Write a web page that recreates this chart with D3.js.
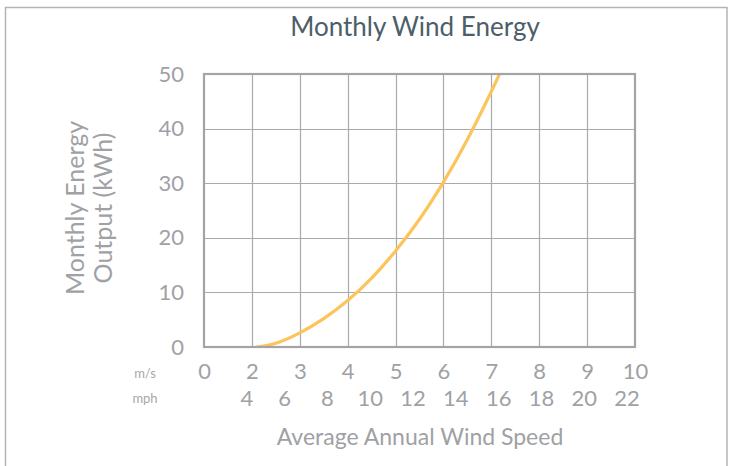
<!DOCTYPE html>
<html><head><meta charset="utf-8">
<script src="https://cdn.jsdelivr.net/npm/d3@7"></script>
<style>body{margin:0;background:#fff;overflow:hidden} text{font-family:Lato, "Open Sans", sans-serif;}</style>
</head><body><svg id="c" width="729" height="466"></svg>
<script>
// ---- data ----
const msTicks = [0, 2, 3, 4, 5, 6, 7, 8, 9, 10];
const mphTicks = [4, 6, 8, 10, 12, 14, 16, 18, 20, 22];
const energyTicks = [0, 10, 20, 30, 40, 50];
const windSpeed = [2.1, 2.5, 3, 3.5, 4, 4.5, 5, 5.5, 6, 6.5, 7, 7.25];
const energy = [0, 0.7, 2.6, 5.2, 8.5, 12.6, 17.6, 23.4, 30.2, 38, 46.8, 51.5];
const MPH_TO_MS = 0.44704;

// ---- layout ----
const svg = d3.select("#c");
const L = 204, R = 635, T = 74, B = 347;
const step = (R - L) / 9;
const x = d3.scaleLinear().domain([0, 2, 10]).range([L, L + step, R]);
const y = d3.scaleLinear().domain([0, 50]).range([B, T]);
const grey = "#a0a1a5";

// outer frame
svg.append("rect").attr("x", 5.5).attr("y", 7.5).attr("width", 721.5).attr("height", 470)
  .attr("fill", "none").attr("stroke", "#b4b4b6").attr("stroke-width", 1.5);

// title
svg.append("text").attr("x", 415).attr("y", 36).attr("text-anchor", "middle")
  .attr("font-size", 26).attr("fill", "#4d5e69").text("Monthly Wind Energy");

// grid
const g = svg.append("g");
g.selectAll("line.v").data(msTicks.slice(1, -1)).join("line").attr("class", "v")
  .attr("x1", d => Math.round(x(d)) + 0.5).attr("x2", d => Math.round(x(d)) + 0.5)
  .attr("y1", T).attr("y2", B).attr("stroke", "#a9aaad").attr("stroke-width", 1.2);
g.selectAll("line.h").data(energyTicks.slice(1, -1)).join("line").attr("class", "h")
  .attr("y1", d => Math.round(y(d)) + 0.5).attr("y2", d => Math.round(y(d)) + 0.5)
  .attr("x1", L).attr("x2", R).attr("stroke", "#a9aaad").attr("stroke-width", 1.2);

// curve
svg.append("clipPath").attr("id", "clip").append("rect")
  .attr("x", L).attr("y", T).attr("width", R - L).attr("height", B - T);
const pts = windSpeed.map((v, i) => [v, energy[i]]);
svg.append("path").datum(pts).attr("clip-path", "url(#clip)")
  .attr("d", d3.line().x(d => x(d[0])).y(d => y(d[1])).curve(d3.curveNatural))
  .attr("fill", "none").attr("stroke", "#fdc45c").attr("stroke-width", 3.2)
  .attr("stroke-linecap", "round");

// plot frame
svg.append("rect").attr("x", L).attr("y", T).attr("width", R - L).attr("height", B - T)
  .attr("fill", "none").attr("stroke", "#a3a4a8").attr("stroke-width", 2.2);

// y axis ticks
const yAxis = d3.axisLeft(y).tickValues(energyTicks).tickSize(0).tickPadding(20);
const ya = svg.append("g").attr("transform", `translate(${L},0)`).call(yAxis);
ya.select(".domain").remove();
ya.selectAll("text").attr("font-size", 22).attr("fill", grey).attr("font-family", "Lato, sans-serif");

// x axis m/s
const xAxis = d3.axisBottom(x).tickValues(msTicks).tickSize(0).tickPadding(16).tickFormat(d3.format("d"));
const xa = svg.append("g").attr("transform", `translate(0,${B})`).call(xAxis);
xa.select(".domain").remove();
xa.selectAll("text").attr("font-size", 22).attr("fill", grey).attr("font-family", "Lato, sans-serif");

// mph labels
svg.append("g").selectAll("text").data(mphTicks).join("text")
  .attr("x", d => x(d * MPH_TO_MS)).attr("y", 406).attr("text-anchor", "middle")
  .attr("font-size", 22).attr("fill", grey).text(d => d);

// unit labels
svg.append("text").attr("x", 145).attr("y", 378).attr("text-anchor", "middle")
  .attr("font-size", 13).attr("fill", "#a6a7aa").text("m/s");
svg.append("text").attr("x", 145).attr("y", 403).attr("text-anchor", "middle")
  .attr("font-size", 13).attr("fill", "#a6a7aa").text("mph");

// axis titles
svg.append("text").attr("x", 420).attr("y", 445).attr("text-anchor", "middle")
  .attr("font-size", 23).attr("fill", grey).text("Average Annual Wind Speed");
const yt = svg.append("g").attr("transform", "translate(84,208) rotate(-90)");
yt.append("text").attr("text-anchor", "middle").attr("font-size", 25).attr("fill", grey).text("Monthly Energy");
yt.append("text").attr("y", 28).attr("text-anchor", "middle").attr("font-size", 25).attr("fill", grey).text("Output (kWh)");
</script></body></html>
